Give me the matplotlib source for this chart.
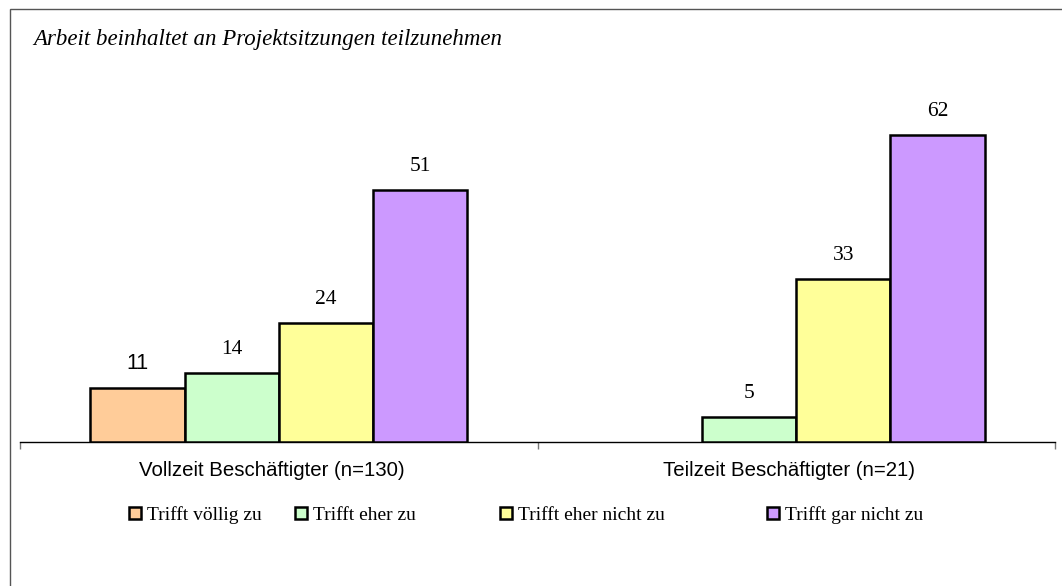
import matplotlib
matplotlib.use("Agg")
import matplotlib.pyplot as plt
from matplotlib.patches import Rectangle
from matplotlib.lines import Line2D
from matplotlib.transforms import ScaledTranslation
import numpy as np

title = "Arbeit beinhaltet an Projektsitzungen teilzunehmen"
categories = ["Vollzeit Beschäftigter (n=130)", "Teilzeit Beschäftigter (n=21)"]
series_names = ["Trifft völlig zu", "Trifft eher zu", "Trifft eher nicht zu", "Trifft gar nicht zu"]
vollzeit = [11, 14, 24, 51]
teilzeit = [0, 5, 33, 62]
colors = ["#FFCC99", "#CCFFCC", "#FFFF99", "#CC99FF"]

W, H = 1062, 586
fig = plt.figure(figsize=(W / 100, H / 100), dpi=100)
fig.patch.set_facecolor("white")

# outer frame (only top/left visible)
fig.patches.append(Rectangle((9.5 / W, -0.05), 1.2, (H - 9.5) / H + 0.05,
                             transform=fig.transFigure, fill=False,
                             edgecolor="#555555", lw=1.0))

px_per_unit = 4.95
ymax = 70
ax_left, ax_right, base_y = 20, 1055, 442
ax_h = ymax * px_per_unit
ax = fig.add_axes([ax_left / W, (H - base_y) / H, (ax_right - ax_left) / W, ax_h / H])
ax.set_xlim(-0.5, 1.5)
ax.set_ylim(0, ymax)
ax.patch.set_alpha(0)
for s in ["top", "right", "left"]:
    ax.spines[s].set_visible(False)
ax.spines["bottom"].set_color("black")
ax.spines["bottom"].set_linewidth(1.0)
ax.set_yticks([])

x = np.arange(len(categories))
w = 0.182
data = np.array([vollzeit, teilzeit])
for i, name in enumerate(series_names):
    vals = data[:, i]
    xs = x + (i - 1.5) * w
    for xi, v in zip(xs, vals):
        if v <= 0:
            continue
        ax.bar(xi, v, width=w, color=colors[i], edgecolor="black", linewidth=1.8, zorder=3)
        fam = "Liberation Sans" if v == 11 else "Liberation Serif"
        ax.annotate(str(v), (xi, v), xytext=(0, 10), textcoords="offset points",
                    ha="center", va="bottom", fontsize=15.5, family=fam, color="black")

ax.set_xticks([-0.5, 0.5, 1.5])
ax.set_xticklabels(["", "", ""])
ax.tick_params(axis="x", which="major", direction="out", length=5, width=1, color="#777777")
ax.set_xticks(x, categories, minor=True)
ax.tick_params(axis="x", which="minor", length=0, pad=14, labelsize=14.7)
shift = ScaledTranslation(-7 / 100, 0, fig.dpi_scale_trans)
for lab in ax.get_xticklabels(minor=True):
    lab.set_family("Liberation Sans")
    lab.set_transform(lab.get_transform() + shift)

fig.text(33 / W, 1 - 40 / H, title, fontsize=16.5, family="Liberation Serif",
         style="italic", ha="left", va="center")

# legend entries
leg_x = [131, 297, 502, 769]
leg_y = 515
for i, name in enumerate(series_names):
    h = Line2D([], [], marker="s", linestyle="none", markersize=9,
               markerfacecolor=colors[i], markeredgecolor="black", markeredgewidth=1.8)
    fig.legend([h], [name], loc="center left",
               bbox_to_anchor=((leg_x[i] - 4) / W, 1 - leg_y / H),
               frameon=False, handlelength=0.8, handletextpad=0.25,
               borderaxespad=0, borderpad=0,
               prop={"family": "Liberation Serif", "size": 14})

fig.savefig("out.png", dpi=100)
